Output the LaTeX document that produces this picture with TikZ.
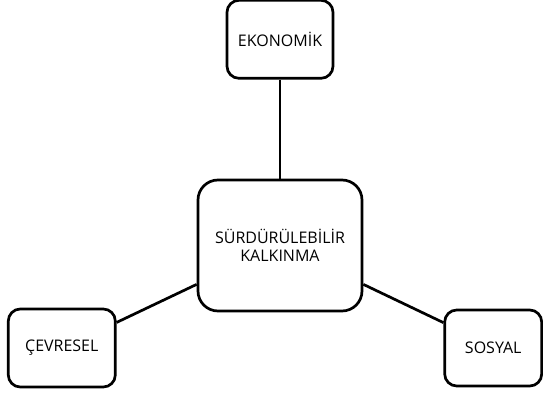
\documentclass[tikz,border=0pt]{standalone}
\usepackage{fontspec}
\setmainfont{Open Sans}
\usetikzlibrary{positioning}

\begin{document}
\begin{tikzpicture}
[x=1pt, y=1pt, 
block/.style = 
{draw, line width=2.7pt, rounded corners=12pt, align=center, font=\fontsize{16}{18}\selectfont},
link/.style = {line width=2.7pt}]
\useasboundingbox (0,0) rectangle (543,-393);

\node [block, rounded corners=20pt, minimum width=164pt, minimum height=131pt] 
  (kalkinma) at (280,-245.5) {SÜRDÜRÜLEBİLİR\\KALKINMA};

\node [block, minimum width=106pt, minimum height=78pt, above=99pt of kalkinma] (ekonomik) {EKONOMİK};
\node [block, minimum width=107pt, minimum height=78pt, left=80pt of kalkinma, yshift=-102.5pt] (cevresel) {ÇEVRESEL};
\node [block, minimum width=97pt, minimum height=76pt, right=80pt of kalkinma, yshift=-102.5pt] (sosyal) {SOSYAL};

\draw [link] (ekonomik) -- (kalkinma);
\draw [link] (kalkinma.205) -- (cevresel.25);
\draw [link] (kalkinma.-25) -- (sosyal.153);

\end{tikzpicture}
\end{document}
